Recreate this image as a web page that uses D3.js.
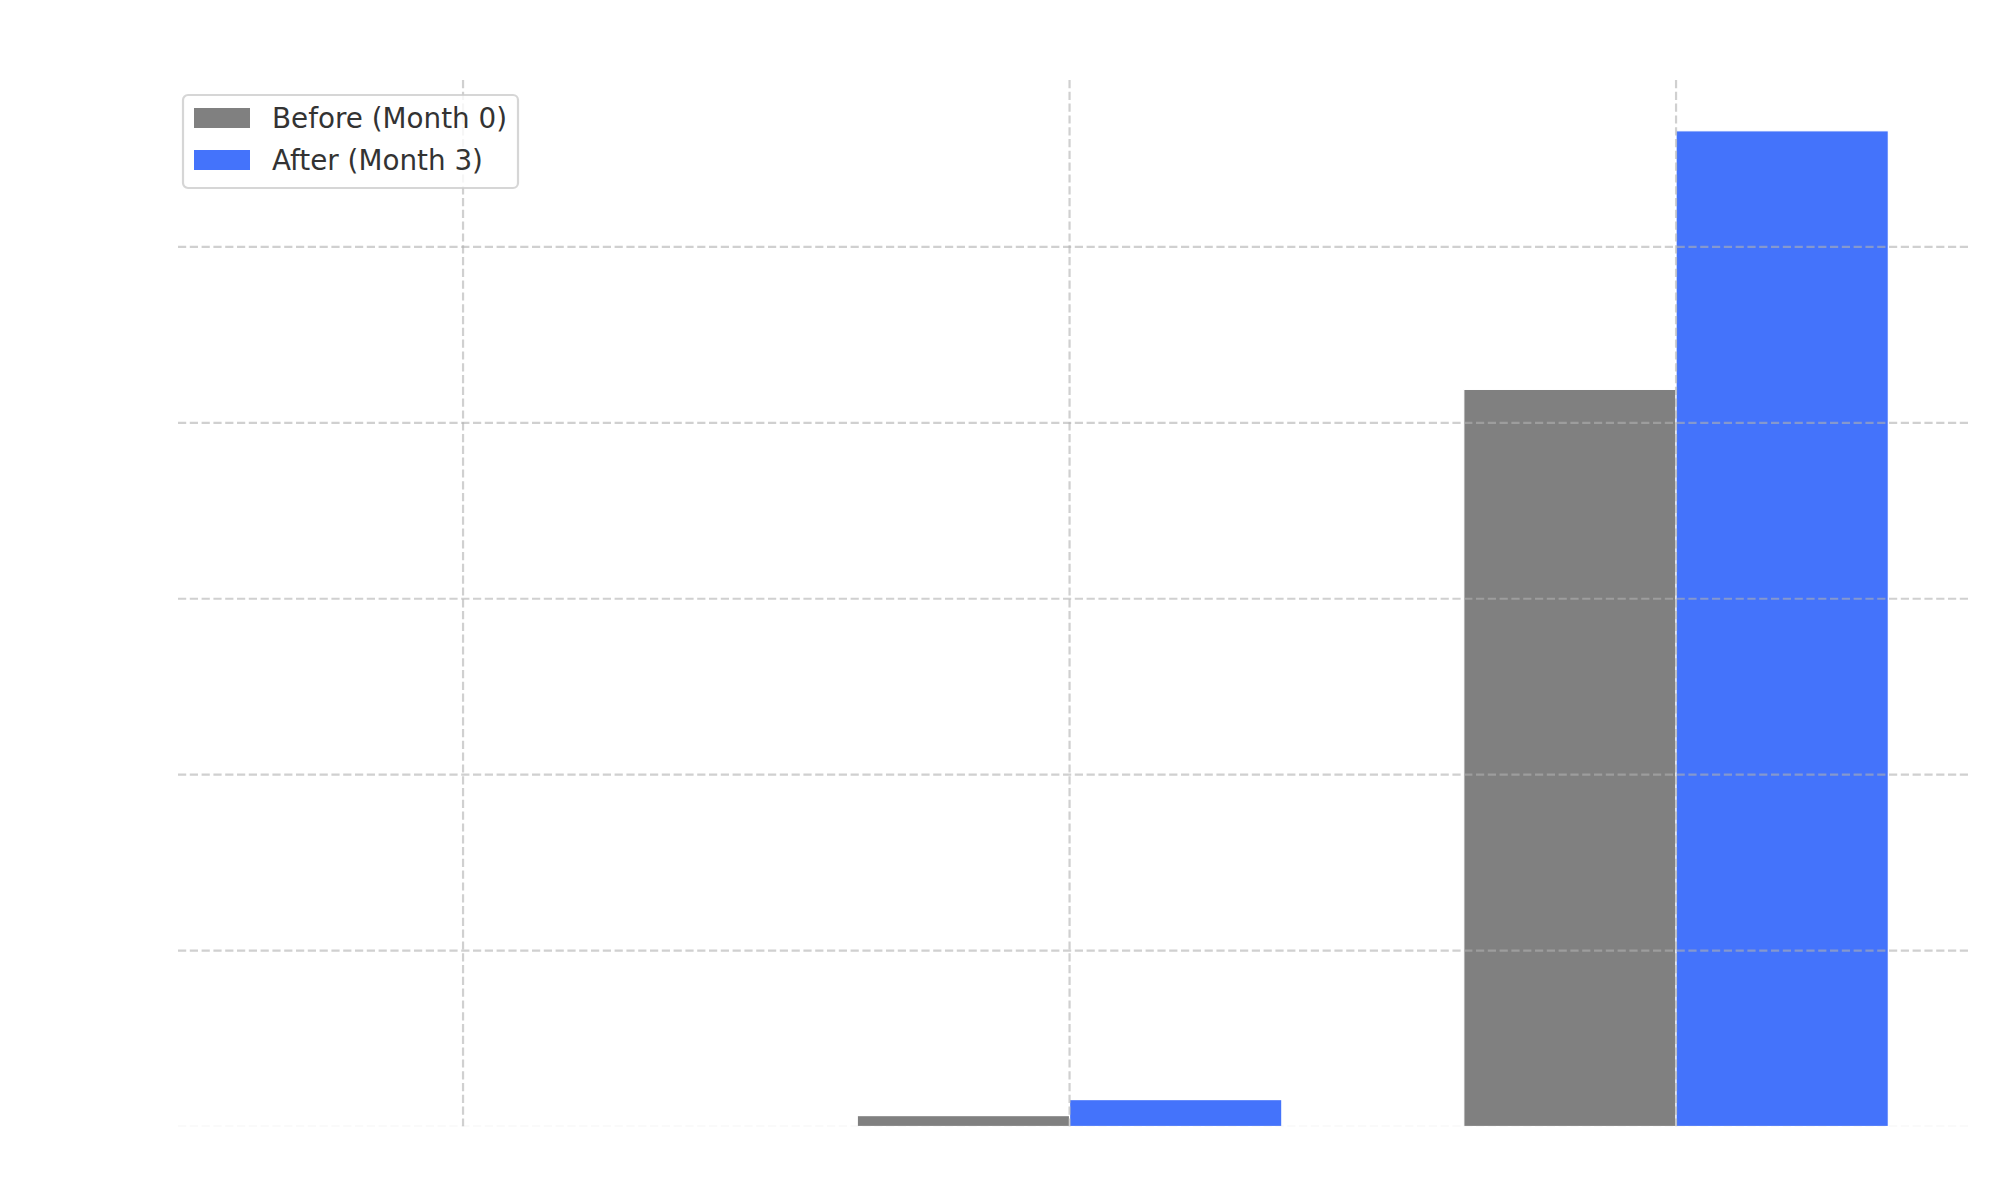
<!DOCTYPE html>
<html>
<head>
<meta charset="utf-8">
<script src="https://cdn.jsdelivr.net/npm/d3@7"></script>
<style>
  html, body { margin: 0; padding: 0; background: #fff; }
  svg { display: block; }
</style>
</head>
<body>
<div id="chart"></div>
<script>
// data (tick labels are not shown, so values are in grid units)
const categories = ['Group 1', 'Group 2', 'Group 3'];
const beforeValues = [0.001, 0.062, 4.19];
const afterValues = [0.002, 0.153, 5.66];
const seriesNames = ['Before (Month 0)', 'After (Month 3)'];
const seriesColors = ['#808080', '#4473fb'];
const yTicks = [0, 1, 2, 3, 4, 5];

const width = 2000
    , height = 1200
    , margin = { top: 80, right: 31, bottom: 73.5, left: 178 }
    , barWidth = 0.35
    , gridColor = '#b0b0b0'
    ;

const svg = d3.select('#chart')
  .append('svg')
  .attr('width', width)
  .attr('height', height);

const x = d3.scaleLinear()
  .domain([-0.47, categories.length - 1 + 0.483])
  .range([margin.left, width - margin.right]);

const yMax = d3.max(afterValues.concat(beforeValues)) * 1.051;
const y = d3.scaleLinear()
  .domain([0, yMax])
  .range([height - margin.bottom, margin.top]);

svg.append('clipPath')
  .attr('id', 'plot-clip')
  .append('rect')
  .attr('x', margin.left)
  .attr('y', margin.top)
  .attr('width', width - margin.left - margin.right)
  .attr('height', height - margin.top - margin.bottom);

// bars
const series = [beforeValues, afterValues];
series.forEach((vals, s) => {
  svg.append('g')
    .selectAll('rect')
    .data(vals)
    .join('rect')
      .attr('x', (d, i) => x(i + (s === 0 ? -barWidth : 0)))
      .attr('width', x(barWidth) - x(0))
      .attr('y', d => y(d))
      .attr('height', d => y(0) - y(d))
      .attr('fill', seriesColors[s])
      .attr('stroke', '#fff')
      .attr('stroke-width', 1.2);
});

// grid on top of the bars
const grid = svg.append('g')
  .attr('clip-path', 'url(#plot-clip)')
  .attr('stroke', gridColor)
  .attr('stroke-width', 2.2)
  .attr('stroke-dasharray', '8.2,3.6');

grid.selectAll('line.h')
  .data(yTicks)
  .join('line')
    .attr('class', 'h')
    .attr('stroke-opacity', d => d === 0 ? 0.12 : 0.6)
    .attr('x1', margin.left)
    .attr('x2', width - margin.right)
    .attr('y1', d => y(d))
    .attr('y2', d => y(d));

grid.selectAll('line.v')
  .data(categories)
  .join('line')
    .attr('class', 'v')
    .attr('stroke-opacity', 0.6)
    .attr('x1', (d, i) => x(i))
    .attr('x2', (d, i) => x(i))
    .attr('y1', margin.top)
    .attr('y2', height - margin.bottom);

// legend
const legend = svg.append('g')
  .attr('transform', 'translate(183,95)');

legend.append('rect')
  .attr('width', 335)
  .attr('height', 93)
  .attr('rx', 5)
  .attr('fill', '#fff')
  .attr('fill-opacity', 0.8)
  .attr('stroke', '#cccccc')
  .attr('stroke-opacity', 0.8)
  .attr('stroke-width', 2.2);

const items = legend.selectAll('g.item')
  .data(seriesNames)
  .join('g')
    .attr('class', 'item')
    .attr('transform', (d, i) => `translate(11,${23 + i * 42})`);

items.append('rect')
  .attr('x', 0)
  .attr('y', -10)
  .attr('width', 56)
  .attr('height', 20)
  .attr('fill', (d, i) => seriesColors[i]);

items.append('text')
  .attr('x', 78)
  .attr('y', 10)
  .attr('fill', '#333')
  .style('font', '27.8px "DejaVu Sans", sans-serif')
  .text(d => d);
</script>
</body>
</html>
